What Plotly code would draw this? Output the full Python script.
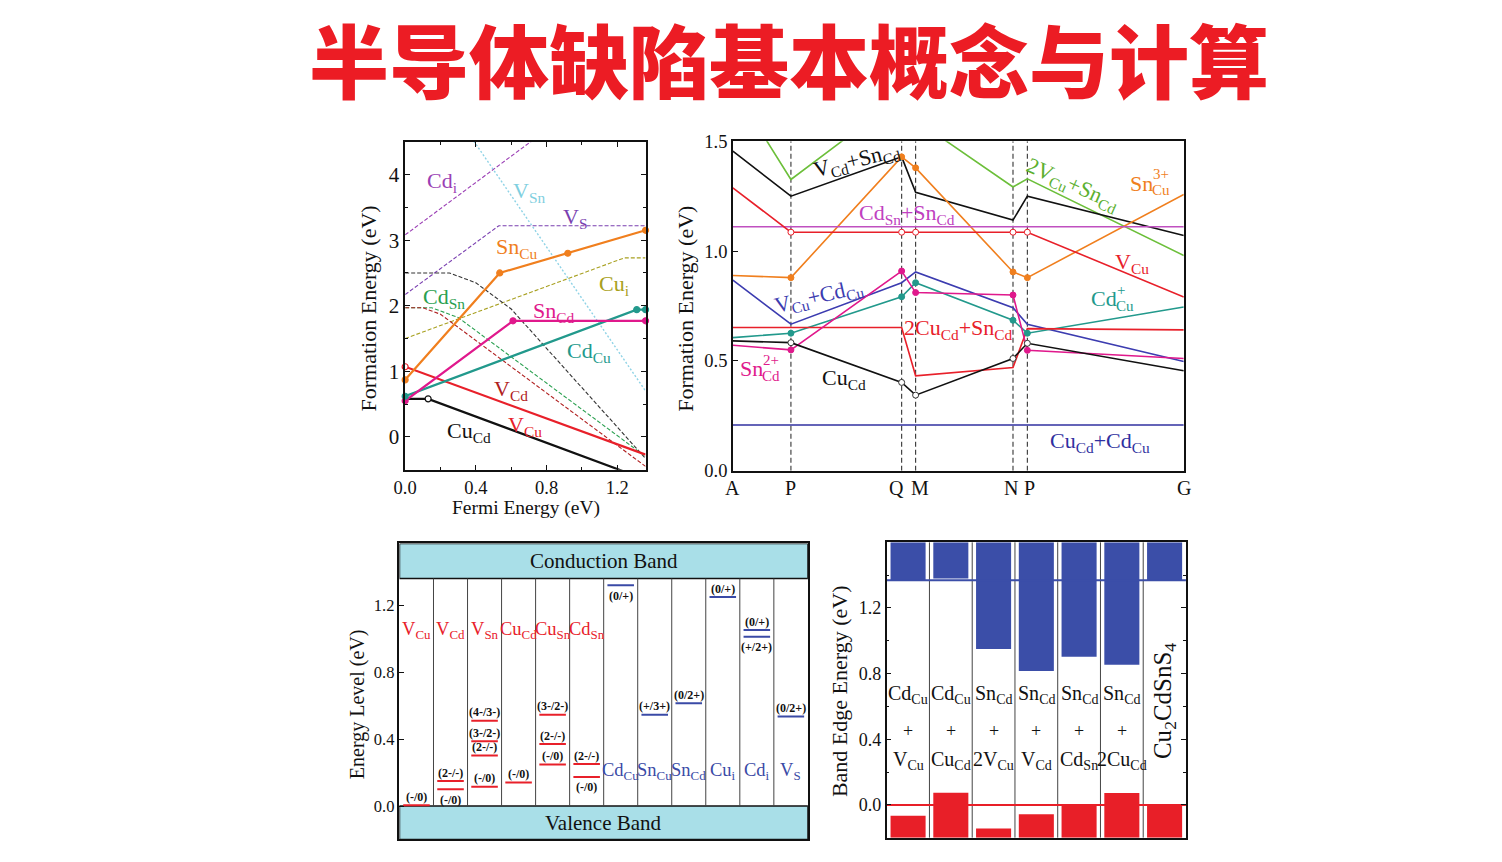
import plotly.graph_objects as go

W, H = 1502, 862
# measured mapping of page pixels to the photographed picture (x' = X0 + XS*x, y' = Y0 + YS*y)
TX0, TXS, TY0, TYS = 9.9, 0.9944, 7.8, 0.98
SERIF = "Liberation Serif"
BLK = "#111111"
RED = "#e8202a"
BLUE = "#3a4aa6"

title_text = "半导体缺陷基本概念与计算"

# ---------------- Panel A : formation energy vs Fermi energy ----------------
cu_cd_x = [0.0, 0.13, 1.36]
cu_cd_y = [0.58, 0.58, -0.65]
v_cu_x = [0.0, 1.36]
v_cu_y = [1.07, -0.27]
cd_cu_x = [0.0, 1.31, 1.36]
cd_cu_y = [0.62, 1.94, 1.94]
sn_cd_x = [0.0, 0.61, 1.36]
sn_cd_y = [0.55, 1.77, 1.77]
sn_cu_x = [0.0, 0.535, 1.36]
sn_cu_y = [0.87, 2.50, 3.15]
cd_i_x = [0.0, 0.80]
cd_i_y = [3.08, 4.68]
v_s_x = [0.0, 0.53, 1.36]
v_s_y = [2.17, 3.22, 3.22]
v_sn_x = [0.35, 1.36]
v_sn_y = [4.66, 0.70]
cu_i_x = [0.0, 1.24, 1.36]
cu_i_y = [1.50, 2.73, 2.73]
cu_sn_x = [0.0, 0.25, 0.40, 0.60, 1.36]
cu_sn_y = [2.50, 2.50, 2.35, 1.95, -0.33]
cd_sn_x = [0.0, 0.15, 0.30, 1.36]
cd_sn_y = [1.97, 1.97, 1.82, -0.30]
v_cd_x = [0.0, 0.10, 0.20, 1.36]
v_cd_y = [1.97, 1.97, 1.87, -0.45]

sn_cu_dot_x = [0.0, 0.535, 0.92, 1.36]
sn_cu_dot_y = [0.87, 2.50, 2.80, 3.15]
sn_cd_dot_x = [0.0, 0.61, 1.36]
sn_cd_dot_y = [0.55, 1.77, 1.77]
cd_cu_dot_x = [0.0, 1.31, 1.36]
cd_cu_dot_y = [0.62, 1.94, 1.94]
open_dot_x = [0.0, 0.13]
open_dot_y = [1.07, 0.58]
open_dot_col = [RED, BLK]

a_label_text = ["Cd<sub>i</sub>", "V<sub>Sn</sub>", "V<sub>S</sub>", "Sn<sub>Cu</sub>",
                "Cu<sub>i</sub>", "Cd<sub>Sn</sub>", "Sn<sub>Cd</sub>", "Cd<sub>Cu</sub>",
                "V<sub>Cd</sub>", "V<sub>Cu</sub>", "Cu<sub>Cd</sub>"]
a_label_x = [0.21, 0.70, 0.96, 0.63, 1.18, 0.22, 0.84, 1.04, 0.60, 0.68, 0.36]
a_label_y = [3.89, 3.74, 3.33, 2.88, 2.32, 2.12, 1.90, 1.29, 0.71, 0.17, 0.08]
a_label_col = ["#9b3fb5", "#7fcfe0", "#7a3fb0", "#f07f1e", "#a8a020", "#2aa050",
               "#e0198c", "#22998c", "#b02020", RED, BLK]

# ---------------- Panel B : formation energy along path ----------------
kpath_labels = ["A", "P", "Q", "M", "N", "P", "G"]
kpath_pos = [0.0, 0.582, 1.692, 1.832, 2.808, 2.952, 4.52]
vcd_sncd = [1.455, 1.25, 1.429, 1.268, 1.141, 1.25, 1.071]
v2cu_sncd = [1.748, 1.326, 1.705, 1.597, 1.292, 1.329, 0.98]
sncu3 = [0.889, 0.879, 1.429, 1.379, 0.905, 0.879, 1.258]
cdsn_sncd = [1.111, 1.111, 1.111, 1.111, 1.111, 1.111, 1.111]
vcu_b = [1.288, 1.086, 1.086, 1.086, 1.086, 1.086, 0.791]
vcu_cdcu = [0.868, 0.667, 0.856, 0.905, 0.742, 0.667, 0.497]
cdcu_plus = [0.606, 0.626, 0.792, 0.856, 0.685, 0.626, 0.745]
sncd2 = [0.571, 0.55, 0.909, 0.811, 0.80, 0.548, 0.511]
cu2cd_sncd = [0.652, 0.652, 0.652, 0.432, 0.47, 0.647, 0.641]
cucd_b = [0.591, 0.583, 0.402, 0.344, 0.511, 0.58, 0.455]
cucd_cdcu = [0.208, 0.208, 0.208, 0.208, 0.208, 0.208, 0.208]

b_label_text = ["V<sub>Cd</sub>+Sn<sub>Cd</sub>", "Cd<sub>Sn</sub>+Sn<sub>Cd</sub>",
                "2V<sub>Cu</sub>+Sn<sub>Cd</sub>", "V<sub>Cu</sub>",
                "V<sub>Cu</sub>+Cd<sub>Cu</sub>", "2Cu<sub>Cd</sub>+Sn<sub>Cd</sub>",
                "Cu<sub>Cd</sub>", "Cu<sub>Cd</sub>+Cd<sub>Cu</sub>"]
b_label_x = [1.24, 1.745, 3.40, 4.00, 0.86, 2.26, 1.11, 3.68]
b_label_y = [1.41, 1.168, 1.30, 0.945, 0.79, 0.645, 0.418, 0.132]
b_label_col = [BLK, "#c040c0", "#5cb030", RED, "#3c3cb0", RED, BLK, "#3030a0"]
b_label_ang = [-14, 0, 24, 0, -13, 0, 0, 0]
b_ion_base = ["Sn", "Cd", "Sn"]
b_ion_sup = ["3+", "+", "2+"]
b_ion_sub = ["Cu", "Cu", "Cd"]
b_ion_x = [4.215, 3.855, 0.30]
b_ion_y = [1.309, 0.782, 0.464]
b_ion_col = ["#f07f1e", "#22998c", "#e0198c"]

# ---------------- Panel C : defect transition levels ----------------
c_columns = ["V<sub>Cu</sub>", "V<sub>Cd</sub>", "V<sub>Sn</sub>", "Cu<sub>Cd</sub>",
             "Cu<sub>Sn</sub>", "Cd<sub>Sn</sub>", "Cd<sub>Cu</sub>", "Sn<sub>Cu</sub>",
             "Sn<sub>Cd</sub>", "Cu<sub>i</sub>", "Cd<sub>i</sub>", "V<sub>S</sub>"]
c_is_acceptor = [True, True, True, True, True, True, False, False, False, False, False, False]
band_gap = 1.36
lvl_col = [0, 1, 1, 2, 2, 2, 2, 3, 4, 4, 4, 5, 5, 6, 7, 8, 9, 10, 10, 11]
lvl_energy = [0.005, 0.149, 0.10, 0.51, 0.387, 0.302, 0.115, 0.141, 0.546, 0.371, 0.248,
              0.252, 0.173, 1.32, 0.546, 0.615, 1.25, 1.052, 1.012, 0.536]
lvl_label = ["(-/0)", "(2-/-)", "(-/0)", "(4-/3-)", "(3-/2-)", "(2-/-)", "(-/0)", "(-/0)",
             "(3-/2-)", "(2-/-)", "(-/0)", "(2-/-)", "(-/0)", "(0/+)", "(+/3+)", "(0/2+)",
             "(0/+)", "(0/+)", "(+/2+)", "(0/2+)"]
lvl_above = [True, True, False, True, True, True, True, True, True, True, True, True, False,
             False, True, True, True, True, False, True]

# ---------------- Panel D : band edges of defect complexes ----------------
d_top = ["Cd<sub>Cu</sub>", "Cd<sub>Cu</sub>", "Sn<sub>Cd</sub>", "Sn<sub>Cd</sub>",
         "Sn<sub>Cd</sub>", "Sn<sub>Cd</sub>"]
d_bottom = ["V<sub>Cu</sub>", "Cu<sub>Cd</sub>", "2V<sub>Cu</sub>", "V<sub>Cd</sub>",
            "Cd<sub>Sn</sub>", "2Cu<sub>Cd</sub>"]
d_host = "Cu<sub>2</sub>CdSnS<sub>4</sub>"
d_cbm = [1.368, 1.378, 0.95, 0.816, 0.903, 0.853, 1.368]
d_vbm = [-0.066, 0.075, -0.143, -0.056, 0.0, 0.072, 0.0]
host_cbm = 1.368
host_vbm = 0.0
d_top_edge = 1.6
d_bottom_edge = -0.2

fig = go.Figure()


def line(x, y, color, width, dash=None, xa="x", ya="y"):
    fig.add_trace(go.Scatter(x=x, y=y, mode="lines", xaxis=xa, yaxis=ya, showlegend=False,
                             hoverinfo="skip",
                             line=dict(color=color, width=width, dash=dash)))


def dots(x, y, color, fill=True, xa="x", ya="y", size=6):
    fig.add_trace(go.Scatter(x=x, y=y, mode="markers", xaxis=xa, yaxis=ya, showlegend=False,
                             hoverinfo="skip", cliponaxis=False,
                             marker=dict(size=size, color=color if fill else "white",
                                         line=dict(color=color, width=1.2))))


# ---- Panel A traces
DASH = "4px,2px"
line(cd_i_x, cd_i_y, "#9b3fb5", 1.1, DASH)
line(v_s_x, v_s_y, "#7a3fb0", 1.1, DASH)
line(v_sn_x, v_sn_y, "#8fd3e6", 1.4, "2px,2px")
line(cu_i_x, cu_i_y, "#a8a020", 1.1, DASH)
line(cu_sn_x, cu_sn_y, "#333333", 1.1, DASH)
line(cd_sn_x, cd_sn_y, "#2aa050", 1.1, DASH)
line(v_cd_x, v_cd_y, "#b02020", 1.1, DASH)
line(cu_cd_x, cu_cd_y, BLK, 2.2)
line(v_cu_x, v_cu_y, RED, 2.2)
line(cd_cu_x, cd_cu_y, "#22998c", 2.2)
line(sn_cd_x, sn_cd_y, "#e0198c", 2.2)
line(sn_cu_x, sn_cu_y, "#f07f1e", 2.2)
dots(sn_cu_dot_x, sn_cu_dot_y, "#f07f1e")
dots(sn_cd_dot_x, sn_cd_dot_y, "#e0198c")
dots(cd_cu_dot_x, cd_cu_dot_y, "#22998c")
for xx, yy, cc in zip(open_dot_x, open_dot_y, open_dot_col):
    dots([xx], [yy], cc, fill=False)

# ---- Panel B traces
vx, vy = [], []
for p in kpath_pos[1:6]:
    vx += [p, p, None]
    vy += [0, 1.5, None]
line(vx, vy, "#333333", 1.1, "5px,3px", "x2", "y2")

b_series = [
    (v2cu_sncd, "#6cbf3a", None),
    (vcd_sncd, BLK, None),
    (sncu3, "#f07f1e", ("#f07f1e", True)),
    (cdsn_sncd, "#c050c0", None),
    (vcu_b, RED, (RED, False)),
    (vcu_cdcu, "#3c3cb0", None),
    (cdcu_plus, "#22998c", ("#22998c", True)),
    (cu2cd_sncd, RED, None),
    (sncd2, "#e0198c", ("#e0198c", True)),
    (cucd_b, BLK, ("#333333", False)),
    (cucd_cdcu, "#3030a0", None),
]
for ys, col, mk in b_series:
    line(kpath_pos, ys, col, 1.6, None, "x2", "y2")
for ys, col, mk in b_series:
    if mk:
        fig.add_trace(go.Scatter(x=kpath_pos[1:6], y=ys[1:6], mode="markers", xaxis="x2",
                                 yaxis="y2", showlegend=False, hoverinfo="skip",
                                 marker=dict(size=6, color=mk[0] if mk[1] else "white",
                                             line=dict(color=mk[0], width=1))))

# ---- Panel C shapes/traces
shapes = []
shapes.append(dict(type="rect", xref="x3", yref="y3", x0=0, x1=12, y0=band_gap, y1=1.57,
                   fillcolor="#a9dfe8", line=dict(color=BLK, width=1.5), layer="below"))
shapes.append(dict(type="rect", xref="x3", yref="y3", x0=0, x1=12, y0=-0.2, y1=0,
                   fillcolor="#a9dfe8", line=dict(color=BLK, width=1.5), layer="below"))
sx, sy = [], []
for i in range(1, 12):
    sx += [i, i, None]
    sy += [0, band_gap, None]
line(sx, sy, "#444444", 1.0, None, "x3", "y3")
for is_acc in (True, False):
    lx, ly = [], []
    for c, e in zip(lvl_col, lvl_energy):
        if c_is_acceptor[c] == is_acc:
            lx += [c + 0.11, c + 0.89, None]
            ly += [e, e, None]
    line(lx, ly, RED if is_acc else BLUE, 2.0, None, "x3", "y3")

# ---- Panel D bars
centers = [i + 0.5 for i in range(7)]
fig.add_trace(go.Bar(x=centers, y=[d_top_edge - c for c in d_cbm], base=d_cbm, width=0.82,
                     marker=dict(color="#3b4ea8", line=dict(width=0)), xaxis="x4", yaxis="y4",
                     showlegend=False, hoverinfo="skip"))
fig.add_trace(go.Bar(x=centers, y=[v - d_bottom_edge for v in d_vbm], base=d_bottom_edge,
                     width=0.82, marker=dict(color="#e81f28", line=dict(width=0)),
                     xaxis="x4", yaxis="y4", showlegend=False, hoverinfo="skip"))
dxs, dys = [], []
for i in range(1, 7):
    dxs += [i, i, None]
    dys += [d_bottom_edge, d_top_edge, None]
line(dxs, dys, "#444444", 1.0, None, "x4", "y4")
line([0, 7], [host_cbm, host_cbm], "#3b4ea8", 2.0, None, "x4", "y4")
line([0, 7], [host_vbm, host_vbm], "#e81f28", 2.0, None, "x4", "y4")


# target pixel (as in the reference picture) -> paper fraction
def PX(xp):
    return ((xp - TX0) / TXS) / W


def PY(yp):
    return 1 - ((yp - TY0) / TYS) / H


ann = []
ann.append(dict(text=title_text, x=PX(789), y=PY(55), xref="paper", yref="paper",
                showarrow=False, xanchor="center", yanchor="middle",
                font=dict(family="Noto Sans CJK SC", size=80, color="#ec1c24", weight=900)))


def A(text, x, y, xr, yr, size, color=BLK, angle=0, **kw):
    d = dict(text=text, x=x, y=y, xref=xr, yref=yr, showarrow=False, xanchor="center",
             yanchor="middle", textangle=angle,
             font=dict(family=SERIF, size=size, color=color))
    d.update(kw)
    ann.append(d)


for t, x, y, c in zip(a_label_text, a_label_x, a_label_y, a_label_col):
    A(t, x, y, "x", "y", 22, c)
for t, x, y, c, g in zip(b_label_text, b_label_x, b_label_y, b_label_col, b_label_ang):
    A(t, x, y, "x2", "y2", 22, c, g)
for bs, sp, sb, x, y, c in zip(b_ion_base, b_ion_sup, b_ion_sub, b_ion_x, b_ion_y, b_ion_col):
    A(bs, x, y, "x2", "y2", 22, c, xanchor="right", xshift=2)
    A(sp, x, y, "x2", "y2", 15, c, xanchor="left", yshift=9, xshift=-2)
    A(sb, x, y, "x2", "y2", 15, c, xanchor="left", yshift=-7, xshift=-3)

k_label_shift = [0, 0, -5, 4, -2, 2, 0]
for lab, p, s in zip(kpath_labels, kpath_pos, k_label_shift):
    A(lab, p, PY(487), "x2", "paper", 20, xshift=s)

A("Formation Energy (eV)", PX(367), PY(307), "paper", "paper", 22, BLK, -90)
A("Fermi Energy (eV)", PX(525), PY(507), "paper", "paper", 19.5)
A("Formation Energy (eV)", PX(685), PY(307), "paper", "paper", 22, BLK, -90)
A("Energy Level (eV)", PX(357), PY(704), "paper", "paper", 20, BLK, -90)
A("Band Edge Energy (eV)", PX(840), PY(691), "paper", "paper", 22, BLK, -90)

A("Conduction Band", 6, 1.465, "x3", "y3", 21)
A("Valence Band", 6, -0.1, "x3", "y3", 21)
for i, name in enumerate(c_columns):
    if c_is_acceptor[i]:
        A(name, i + 0.5, 1.05, "x3", "y3", 18.5, RED)
    else:
        A(name, i + 0.5, 0.205, "x3", "y3", 18.5, BLUE)
for c, e, t, up in zip(lvl_col, lvl_energy, lvl_label, lvl_above):
    A("<b>" + t + "</b>", c + 0.5, e + (0.05 if up else -0.062), "x3", "y3", 12, BLK)

for i in range(6):
    A(d_top[i], i + 0.5, 0.67, "x4", "y4", 20)
    A("+", i + 0.5, 0.45, "x4", "y4", 18)
    A(d_bottom[i], i + 0.5, 0.27, "x4", "y4", 20)
A(d_host, 6.5, 0.63, "x4", "y4", 25, BLK, -90)

base_ax = dict(showline=True, linecolor=BLK, linewidth=1.5, showgrid=False, zeroline=False,
               ticks="inside", tickcolor=BLK, ticklen=5, tickwidth=1.2)


def tf(size):
    return dict(family=SERIF, size=size, color=BLK)


def dx_(a, b):
    return [PX(a), PX(b)]


def dy_(top, bottom):
    return [PY(bottom), PY(top)]


layout = dict(
    width=W, height=H, margin=dict(l=0, r=0, t=0, b=0),
    paper_bgcolor="white", plot_bgcolor="white", barmode="overlay",
    shapes=shapes, annotations=ann,
    xaxis=dict(base_ax, domain=dx_(404, 645), anchor="y", range=[0, 1.36], mirror="ticks",
               tickvals=[0, 0.4, 0.8, 1.2], ticktext=["0.0", "0.4", "0.8", "1.2"],
               tickfont=tf(18.5),
               minor=dict(dtick=0.2, ticks="inside", ticklen=3, tickcolor=BLK)),
    yaxis=dict(base_ax, domain=dy_(140, 469), anchor="x", range=[-0.5, 4.5], mirror="ticks",
               tickvals=[0, 1, 2, 3, 4], tickfont=tf(21),
               minor=dict(dtick=0.5, ticks="inside", ticklen=3, tickcolor=BLK)),
    xaxis2=dict(base_ax, domain=dx_(732.5, 1184.5), anchor="y2", range=[0, 4.52], mirror=True,
                ticks="", showticklabels=False),
    yaxis2=dict(base_ax, domain=dy_(139.5, 470), anchor="x2", range=[0, 1.5], mirror=True,
                tickvals=[0, 0.5, 1.0, 1.5], ticktext=["0.0", "0.5", "1.0", "1.5"],
                tickfont=tf(18.5)),
    yaxis5=dict(overlaying="y2", anchor="x2", side="right", range=[0, 1.5], showline=False,
                showgrid=False, zeroline=False, ticks="inside", ticklen=5, tickcolor=BLK,
                tickvals=[0.2, 0.4, 0.6, 0.8, 1.0, 1.2, 1.4], showticklabels=False),
    xaxis3=dict(base_ax, domain=dx_(398.3, 807.7), anchor="y3", range=[0, 12], mirror=True,
                ticks="", showticklabels=False),
    yaxis3=dict(base_ax, domain=dy_(543, 840), anchor="x3", range=[-0.2, 1.57], mirror=True,
                tickvals=[0, 0.4, 0.8, 1.2], ticktext=["0.0", "0.4", "0.8", "1.2"],
                tickfont=tf(16.5)),
    yaxis6=dict(overlaying="y3", anchor="x3", side="right", range=[-0.2, 1.57], showline=False,
                showgrid=False, zeroline=False, ticks="inside", ticklen=5, tickcolor=BLK,
                tickvals=[0.227, 0.453, 0.68, 0.907, 1.133, 1.36], showticklabels=False),
    xaxis4=dict(base_ax, domain=dx_(886.7, 1186.7), anchor="y4", range=[0, 7], mirror=True,
                ticks="", showticklabels=False),
    yaxis4=dict(base_ax, domain=dy_(541.7, 838.3), anchor="x4", range=[-0.2, 1.6],
                mirror="ticks", tickvals=[0, 0.4, 0.8, 1.2], ticktext=["0.0", "0.4", "0.8", "1.2"],
                tickfont=tf(18),
                minor=dict(dtick=0.2, ticks="inside", ticklen=3, tickcolor=BLK)),
)
fig.update_layout(**layout)

fig.write_html("out.html", config={"displayModeBar": False},
               post_script="document.body.style.margin='0';document.body.style.overflow='hidden';")
